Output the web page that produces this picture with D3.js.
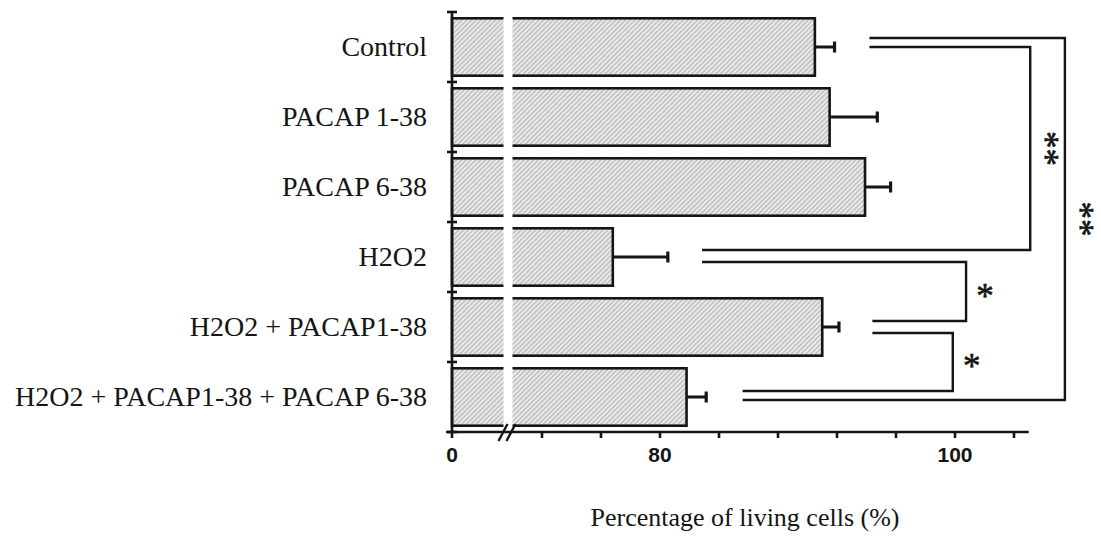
<!DOCTYPE html>
<html>
<head>
<meta charset="utf-8">
<script src="https://cdn.jsdelivr.net/npm/d3@7"></script>
<style>
  html, body { margin: 0; padding: 0; background: #fff; }
  svg { display: block; }
</style>
</head>
<body>
<svg id="chart" width="1101" height="538"></svg>
<script>
// Treatment groups, top to bottom
const categories = [
  "Control",
  "PACAP 1-38",
  "PACAP 6-38",
  "H2O2",
  "H2O2 + PACAP1-38",
  "H2O2 + PACAP1-38 + PACAP 6-38"
];
// Mean percentage of living cells and its error
const means  = [90.5, 91.5, 93.9, 76.8, 91.0, 81.8];
const errors = [1.4, 3.3, 1.8, 3.8, 1.2, 1.4];

// Axis ticks (axis is broken between 0 and 70)
const tickValues = [0, 72, 76, 80, 84, 88, 92, 96, 100, 104];
const tickLabels = ["0", "80", "100"];

// Significance comparisons: groups, where each arm starts, where the bracket closes
const compFrom  = ["Control", "Control", "H2O2", "H2O2 + PACAP1-38"];
const compTo    = ["H2O2", "H2O2 + PACAP1-38 + PACAP 6-38", "H2O2 + PACAP1-38", "H2O2 + PACAP1-38 + PACAP 6-38"];
const compStartFrom = [94.2, 94.2, 82.85, 94.4];
const compStartTo   = [82.85, 85.6, 94.4, 85.6];
const compClose     = [105.1, 107.45, 100.75, 99.85];
const compMarks     = ["**", "**", "*", "*"];

const svg = d3.select("#chart");

// Diagonal hatching used to fill the bars
const defs = svg.append("defs");
const pat = defs.append("pattern")
  .attr("id", "hatch")
  .attr("patternUnits", "userSpaceOnUse")
  .attr("width", 3.4).attr("height", 3.4)
  .attr("patternTransform", "rotate(45)");
pat.append("rect").attr("width", 3.4).attr("height", 3.4).attr("fill", "#ebebeb");
pat.append("line").attr("x1", 0.8).attr("y1", 0).attr("x2", 0.8).attr("y2", 3.4)
  .attr("stroke", "#a2a2a2").attr("stroke-width", 0.9);

// Broken linear scale: 0..70 is compressed into a short stub
const x = d3.scaleLinear()
  .domain([0, 70, 105])
  .range([452, 512.5, 1028.75]);

const y = d3.scaleBand()
  .domain(categories)
  .range([12, 432])
  .paddingInner(0.18)
  .paddingOuter(0.09);

const ink = "#151515";
const serif = "'Liberation Serif', 'Times New Roman', serif";
const sans = "'Liberation Sans', Arial, sans-serif";

// Bars
svg.append("g").selectAll("rect")
  .data(categories)
  .join("rect")
  .attr("x", x(0))
  .attr("y", d => y(d))
  .attr("width", (d, i) => x(means[i]) - x(0))
  .attr("height", y.bandwidth())
  .attr("fill", "url(#hatch)")
  .attr("stroke", ink)
  .attr("stroke-width", 2.6);

// Error bars
const eb = svg.append("g").attr("stroke", ink).attr("stroke-width", 3);
categories.forEach((c, i) => {
  const cy = y(c) + y.bandwidth() / 2;
  eb.append("line")
    .attr("x1", x(means[i])).attr("x2", x(means[i] + errors[i]))
    .attr("y1", cy).attr("y2", cy);
  eb.append("line")
    .attr("x1", x(means[i] + errors[i]) - 1).attr("x2", x(means[i] + errors[i]) - 1)
    .attr("y1", cy - 5.5).attr("y2", cy + 5.5)
    .attr("stroke-width", 3.2);
});

// White gap marking the axis break
svg.append("rect")
  .attr("x", x(70) - 9).attr("y", 0)
  .attr("width", 9).attr("height", 428)
  .attr("fill", "#fff");

// Y axis with ticks at group boundaries
const yAxis = svg.append("g").attr("stroke", ink).attr("stroke-width", 2.6);
yAxis.append("line")
  .attr("x1", x(0)).attr("x2", x(0))
  .attr("y1", y.range()[0]).attr("y2", y.range()[1]);
d3.range(categories.length + 1).forEach(k => {
  const ty = y.range()[0] + k * y.step();
  yAxis.append("line")
    .attr("x1", x(0) - 5).attr("x2", x(0) + 5)
    .attr("y1", ty).attr("y2", ty);
});

// Group labels
svg.append("g").selectAll("text")
  .data(categories)
  .join("text")
  .attr("x", 427)
  .attr("y", d => y(d) + y.bandwidth() / 2 + 9)
  .attr("text-anchor", "end")
  .attr("font-family", serif)
  .attr("font-size", 28)
  .attr("fill", ink)
  .text(d => d);

// X axis
const xAxisY = y.range()[1];
const xAxis = svg.append("g").attr("transform", `translate(0,${xAxisY})`);
xAxis.append("line")
  .attr("x1", x(0) - 6).attr("x2", x(105))
  .attr("y1", 0).attr("y2", 0)
  .attr("stroke", ink).attr("stroke-width", 2.6);
xAxis.selectAll("line.tick")
  .data(tickValues)
  .join("line")
  .attr("class", "tick")
  .attr("x1", d => x(d)).attr("x2", d => x(d))
  .attr("y1", 0).attr("y2", 6)
  .attr("stroke", ink).attr("stroke-width", 2.6);
xAxis.selectAll("text")
  .data(tickLabels)
  .join("text")
  .attr("x", d => x(+d))
  .attr("y", 30)
  .attr("text-anchor", "middle")
  .attr("font-family", sans)
  .attr("font-weight", "bold")
  .attr("font-size", 21)
  .attr("fill", ink)
  .text(d => d);

// Break symbol on the x axis
[0, 8].forEach(dx => {
  xAxis.append("line")
    .attr("x1", x(70) - 14 + dx).attr("y1", 9)
    .attr("x2", x(70) - 5 + dx).attr("y2", -8)
    .attr("stroke", ink).attr("stroke-width", 2.4);
});

// Axis title
svg.append("text")
  .attr("x", 745).attr("y", 526)
  .attr("text-anchor", "middle")
  .attr("font-family", serif)
  .attr("font-size", 26)
  .attr("fill", ink)
  .text("Percentage of living cells (%)");

// Significance brackets; arms sit a few pixels off each bar's centre line
const armOffsetFrom = [0, -9, 5, 6];
const armOffsetTo   = [-7, 3, -6, -6];
const br = svg.append("g").attr("fill", "none").attr("stroke", ink).attr("stroke-width", 2.4);
compFrom.forEach((f, i) => {
  const y1 = y(f) + y.bandwidth() / 2 + armOffsetFrom[i];
  const y2 = y(compTo[i]) + y.bandwidth() / 2 + armOffsetTo[i];
  const xc = x(compClose[i]);
  br.append("path")
    .attr("d", `M${x(compStartFrom[i])},${y1}H${xc}V${y2}H${x(compStartTo[i])}`);
  const my = (y1 + y2) / 2;
  if (compMarks[i].length > 1) {
    svg.append("text")
      .attr("transform", `translate(${xc + 4},${my}) rotate(90)`)
      .attr("text-anchor", "middle")
      .attr("font-family", serif)
      .attr("font-size", 35)
      .attr("fill", ink)
      .attr("stroke", ink).attr("stroke-width", 0.6)
      .text(compMarks[i]);
  } else {
    svg.append("text")
      .attr("x", xc + 19).attr("y", my + 16)
      .attr("text-anchor", "middle")
      .attr("font-family", serif)
      .attr("font-size", 35)
      .attr("fill", ink)
      .attr("stroke", ink).attr("stroke-width", 0.6)
      .text(compMarks[i]);
  }
});
</script>
</body>
</html>
